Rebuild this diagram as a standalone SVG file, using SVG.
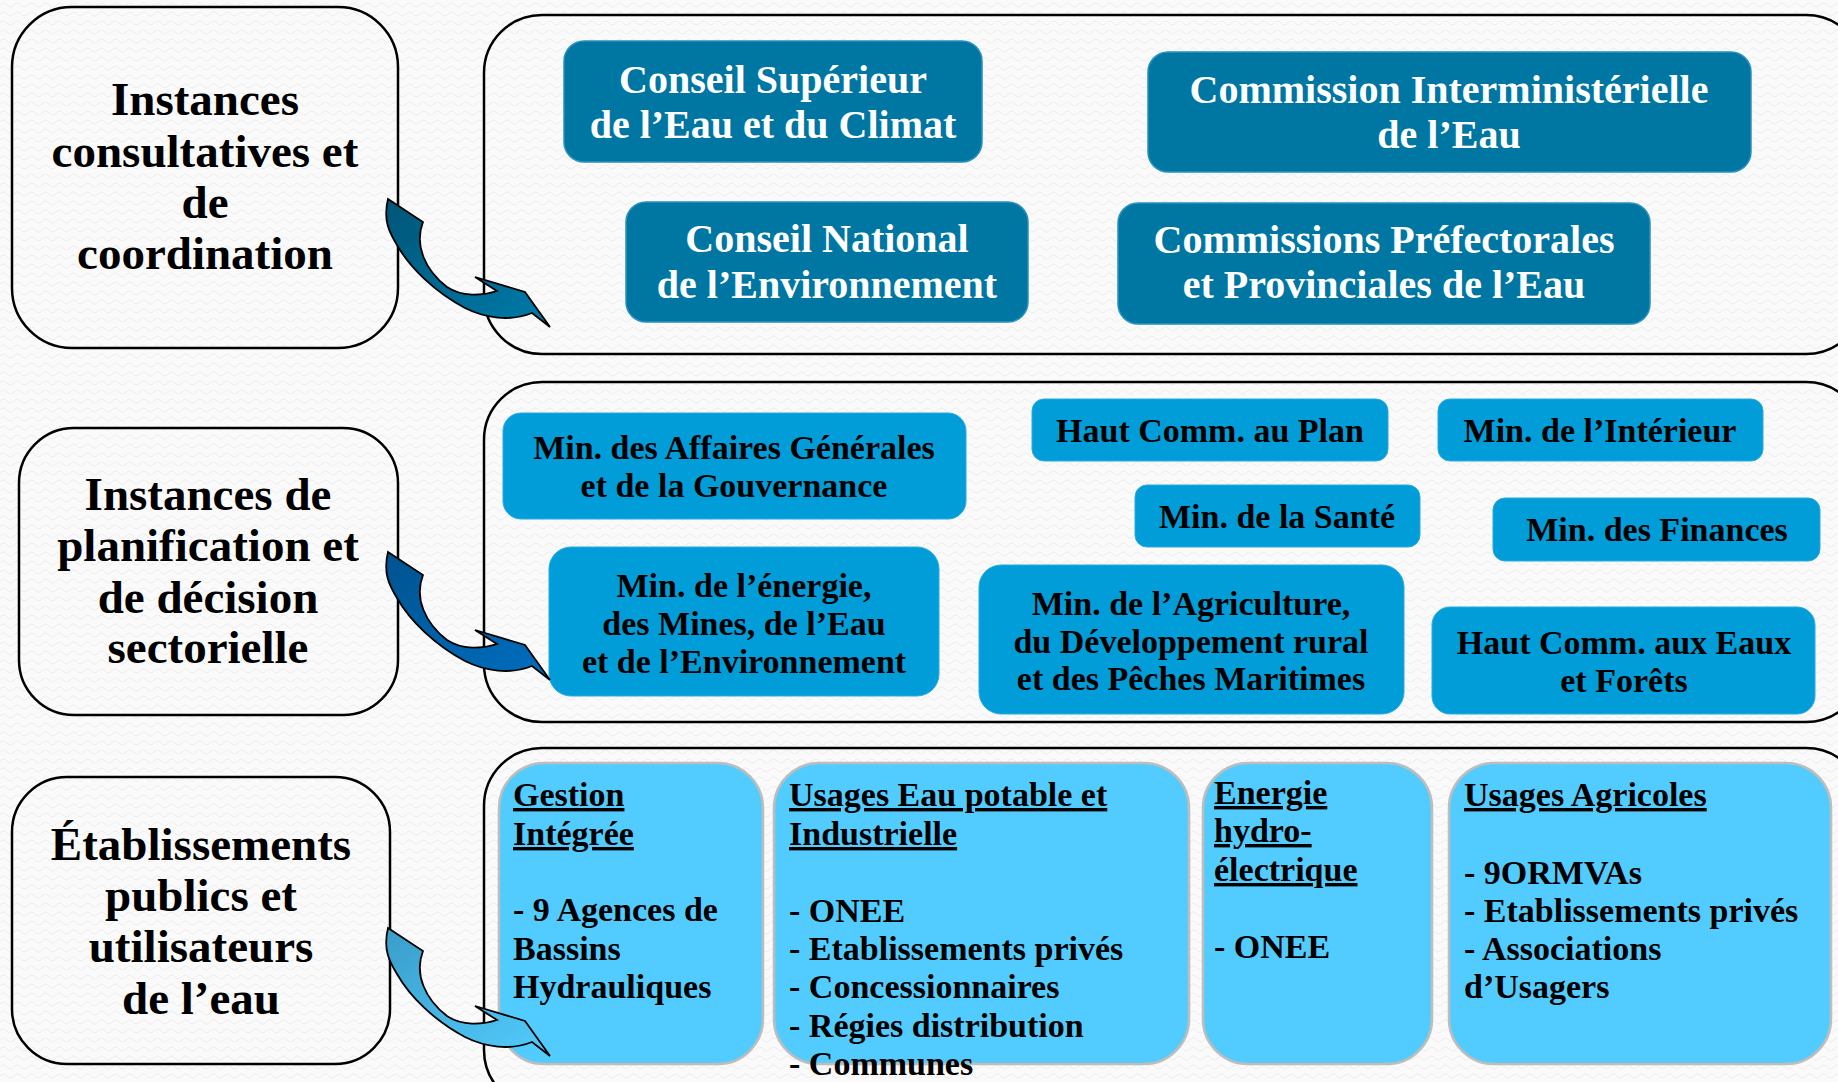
<svg xmlns="http://www.w3.org/2000/svg" width="1838" height="1082" viewBox="0 0 1838 1082">
<defs>
<pattern id="wave" width="14" height="9" patternUnits="userSpaceOnUse">
<path d="M0 5 Q3.5 1 7 5 T14 5" fill="none" stroke="#ECECEC" stroke-width="1"/>
</pattern>
<linearGradient id="g1" x1="0" y1="0" x2="1" y2="1"><stop offset="0" stop-color="#005577"/><stop offset="1" stop-color="#007BAA"/></linearGradient>
<linearGradient id="g2" x1="0" y1="0" x2="1" y2="1"><stop offset="0" stop-color="#00538F"/><stop offset="1" stop-color="#006EC0"/></linearGradient>
<linearGradient id="g3" x1="0" y1="0" x2="1" y2="1"><stop offset="0" stop-color="#3A9DCA"/><stop offset="1" stop-color="#52CCFD"/></linearGradient>
<path id="arrow" d="M388,199 L423,222 C414,245 425,270 447,287 C462,297 482,296 497,291 L475,277 L525,292 L550,327 L532,313 C510,322 485,318 465,308 C435,292 410,268 397,245 C389,232 383,220 388,199 Z"/>
</defs>
<style>
.frame{fill:none;stroke:#000;stroke-width:2.5}
.lbl{font-family:"Liberation Serif","Times New Roman",serif;font-weight:bold;font-size:47px;fill:#000;text-anchor:middle}
.top{fill:#0076A3;stroke:#2A90BE;stroke-width:1.5}
.topt{font-family:"Liberation Serif","Times New Roman",serif;font-weight:bold;font-size:40px;fill:#fff;text-anchor:middle}
.mid{fill:#009DD9;stroke:#2AAAE0;stroke-width:1}
.midt{font-family:"Liberation Serif","Times New Roman",serif;font-weight:bold;font-size:34px;fill:#000;text-anchor:middle}
.bot{fill:#52CCFF;stroke:#BDBDBD;stroke-width:2.5}
.bott{font-family:"Liberation Serif","Times New Roman",serif;font-weight:bold;font-size:34px;fill:#000}
.u{text-decoration:underline}
.arr{stroke:#000;stroke-width:1.8;stroke-linejoin:miter}
</style>
<rect width="1838" height="1082" fill="#FAFAFA"/>
<rect width="1838" height="1082" fill="url(#wave)"/>

<g id="label-consultatives">
<rect class="frame" x="12" y="7" width="386" height="341" rx="60"/>
<text class="lbl" x="205" y="115">Instances</text>
<text class="lbl" x="205" y="167">consultatives et</text>
<text class="lbl" x="205" y="218">de</text>
<text class="lbl" x="205" y="269">coordination</text>
</g>
<g id="label-planification">
<rect class="frame" x="19" y="428" width="379" height="287" rx="55"/>
<text class="lbl" x="208" y="510">Instances de</text>
<text class="lbl" x="208" y="561">planification et</text>
<text class="lbl" x="208" y="613">de décision</text>
<text class="lbl" x="208" y="663">sectorielle</text>
</g>
<g id="label-etablissements">
<rect class="frame" x="12" y="777" width="378" height="287" rx="55"/>
<text class="lbl" x="201" y="860">Établissements</text>
<text class="lbl" x="201" y="911">publics et</text>
<text class="lbl" x="201" y="962">utilisateurs</text>
<text class="lbl" x="201" y="1014">de l’eau</text>
</g>

<g id="container-consultatives">
<rect class="frame" x="484" y="15" width="1380" height="339" rx="58"/>
</g>
<g id="container-planification">
<rect class="frame" x="484" y="382" width="1380" height="340" rx="58"/>
</g>
<g id="container-etablissements">
<rect class="frame" x="484" y="748" width="1380" height="360" rx="58"/>
</g>

<g id="n-csec">
<rect class="top" x="564" y="41" width="418" height="121" rx="20"/>
<text class="topt" x="773" y="93">Conseil Supérieur</text>
<text class="topt" x="773" y="138">de l’Eau et du Climat</text>
</g>
<g id="n-cie">
<rect class="top" x="1148" y="52" width="603" height="120" rx="20"/>
<text class="topt" x="1449" y="103">Commission Interministérielle</text>
<text class="topt" x="1449" y="148">de l’Eau</text>
</g>
<g id="n-cne">
<rect class="top" x="626" y="202" width="402" height="120" rx="20"/>
<text class="topt" x="827" y="252">Conseil National</text>
<text class="topt" x="827" y="298">de l’Environnement</text>
</g>
<g id="n-cppe">
<rect class="top" x="1118" y="203" width="532" height="121" rx="20"/>
<text class="topt" x="1384" y="253">Commissions Préfectorales</text>
<text class="topt" x="1384" y="298">et Provinciales de l’Eau</text>
</g>

<g id="n-magg">
<rect class="mid" x="503" y="413" width="463" height="106" rx="18"/>
<text class="midt" x="734" y="459">Min. des Affaires Générales</text>
<text class="midt" x="734" y="497">et de la Gouvernance</text>
</g>
<g id="n-hcp">
<rect class="mid" x="1032" y="399" width="356" height="62" rx="12"/>
<text class="midt" x="1210" y="442">Haut Comm. au Plan</text>
</g>
<g id="n-mi">
<rect class="mid" x="1438" y="399" width="325" height="62" rx="12"/>
<text class="midt" x="1600" y="442">Min. de l’Intérieur</text>
</g>
<g id="n-ms">
<rect class="mid" x="1135" y="485" width="285" height="62" rx="12"/>
<text class="midt" x="1277" y="528">Min. de la Santé</text>
</g>
<g id="n-mf">
<rect class="mid" x="1493" y="498" width="327" height="63" rx="12"/>
<text class="midt" x="1657" y="541">Min. des Finances</text>
</g>
<g id="n-mem">
<rect class="mid" x="549" y="547" width="390" height="149" rx="22"/>
<text class="midt" x="744" y="597">Min. de l’énergie,</text>
<text class="midt" x="744" y="635">des Mines, de l’Eau</text>
<text class="midt" x="744" y="673">et de l’Environnement</text>
</g>
<g id="n-ma">
<rect class="mid" x="979" y="565" width="425" height="149" rx="22"/>
<text class="midt" x="1191" y="615">Min. de l’Agriculture,</text>
<text class="midt" x="1191" y="653">du Développement rural</text>
<text class="midt" x="1191" y="690">et des Pêches Maritimes</text>
</g>
<g id="n-hcef">
<rect class="mid" x="1432" y="607" width="383" height="107" rx="18"/>
<text class="midt" x="1624" y="654">Haut Comm. aux Eaux</text>
<text class="midt" x="1624" y="692">et Forêts</text>
</g>

<g id="n-gestion">
<rect class="bot" x="499" y="763" width="264" height="301" rx="45"/>
<text class="bott u" x="513" y="806">Gestion</text>
<text class="bott u" x="513" y="845">Intégrée</text>
<text class="bott" x="513" y="921">- 9 Agences de</text>
<text class="bott" x="513" y="960">Bassins</text>
<text class="bott" x="513" y="998">Hydrauliques</text>
</g>
<g id="n-eaupotable">
<rect class="bot" x="774" y="763" width="415" height="301" rx="45"/>
<text class="bott u" x="789" y="806">Usages Eau potable et</text>
<text class="bott u" x="789" y="845">Industrielle</text>
<text class="bott" x="789" y="922">- ONEE</text>
<text class="bott" x="789" y="960">- Etablissements privés</text>
<text class="bott" x="789" y="998">- Concessionnaires</text>
<text class="bott" x="789" y="1037">- Régies distribution</text>
<text class="bott" x="789" y="1075">- Communes</text>
</g>
<g id="n-energie">
<rect class="bot" x="1203" y="763" width="229" height="301" rx="45"/>
<text class="bott u" x="1214" y="804">Energie</text>
<text class="bott u" x="1214" y="842">hydro-</text>
<text class="bott u" x="1214" y="881">électrique</text>
<text class="bott" x="1214" y="958">- ONEE</text>
</g>
<g id="n-agricoles">
<rect class="bot" x="1449" y="763" width="382" height="301" rx="45"/>
<text class="bott u" x="1464" y="806">Usages Agricoles</text>
<text class="bott" x="1464" y="884">- 9ORMVAs</text>
<text class="bott" x="1464" y="922">- Etablissements privés</text>
<text class="bott" x="1464" y="960">- Associations</text>
<text class="bott" x="1464" y="998">d’Usagers</text>
</g>

<g id="connectors">
<use href="#arrow" class="arr" fill="url(#g1)"/>
<use href="#arrow" class="arr" fill="url(#g2)" transform="translate(0,353)"/>
<use href="#arrow" class="arr" fill="url(#g3)" transform="translate(0,729)"/>
</g>
</svg>
